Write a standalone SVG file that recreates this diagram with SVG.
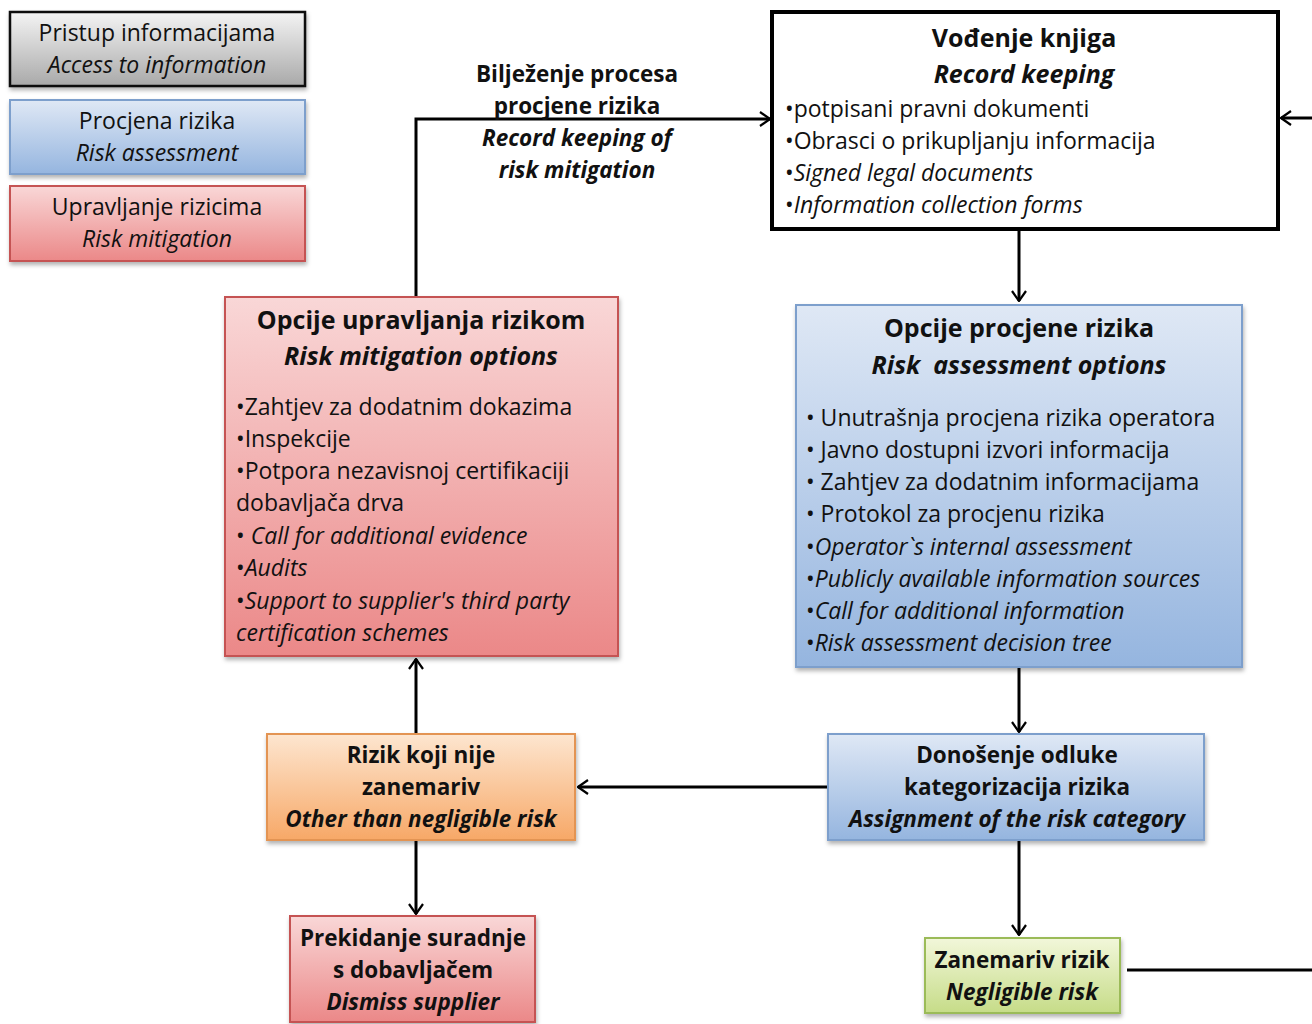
<svg xmlns="http://www.w3.org/2000/svg" width="1312" height="1024" viewBox="0 0 1312 1024">
<defs>
<linearGradient id="gGray" x1="0" y1="0" x2="0" y2="1"><stop offset="0" stop-color="#f4f4f4"/><stop offset="1" stop-color="#a9a9a9"/></linearGradient>
<linearGradient id="gBlue" x1="0" y1="0" x2="0" y2="1"><stop offset="0" stop-color="#dfe8f5"/><stop offset="1" stop-color="#95b5df"/></linearGradient>
<linearGradient id="gRed" x1="0" y1="0" x2="0" y2="1"><stop offset="0" stop-color="#f9d7d7"/><stop offset="1" stop-color="#eb8888"/></linearGradient>
<linearGradient id="gOrange" x1="0" y1="0" x2="0" y2="1"><stop offset="0" stop-color="#fde6d0"/><stop offset="1" stop-color="#f7a867"/></linearGradient>
<linearGradient id="gGreen" x1="0" y1="0" x2="0" y2="1"><stop offset="0" stop-color="#f2f7da"/><stop offset="1" stop-color="#c6dc88"/></linearGradient>
<filter id="sh" x="-5%" y="-5%" width="115%" height="120%"><feDropShadow dx="1" dy="3" stdDeviation="2" flood-color="#000" flood-opacity="0.3"/></filter>
<marker id="arr" viewBox="0 0 12 16" refX="11" refY="8" markerWidth="12" markerHeight="16" markerUnits="userSpaceOnUse" orient="auto"><path d="M1,1 L11,8 L1,15" fill="none" stroke="#000" stroke-width="2.2"/></marker>
</defs>
<style>
text{font-family:"Open Sans","Noto Sans",sans-serif;font-size:23px;fill:#111}
.c{text-anchor:middle}
.b{font-weight:bold;font-size:22.5px}
.i{font-style:italic}
.t{font-size:25px}
.blue{fill:url(#gBlue);stroke:#7d9fcc;stroke-width:2;filter:url(#sh)}
.red{fill:url(#gRed);stroke:#c55353;stroke-width:2;filter:url(#sh)}
.orange{fill:url(#gOrange);stroke:#e39453;stroke-width:2;filter:url(#sh)}
.green{fill:url(#gGreen);stroke:#9bbb59;stroke-width:2;filter:url(#sh)}
.gray{fill:url(#gGray);stroke:#111;stroke-width:2.5;filter:url(#sh)}
.conn{fill:none;stroke:#000;stroke-width:3}
</style>
<rect width="1312" height="1024" fill="#fff"/>

<g id="legend-access">
<rect class="gray" x="10" y="12" width="295" height="74"/>
<text class="c" x="157" y="41">Pristup informacijama</text>
<text class="c i" x="157" y="73">Access to information</text>
</g>
<g id="legend-assessment">
<rect class="blue" x="10" y="100" width="295" height="74"/>
<text class="c" x="157" y="129">Procjena rizika</text>
<text class="c i" x="157" y="161">Risk assessment</text>
</g>
<g id="legend-mitigation">
<rect class="red" x="10" y="186" width="295" height="75"/>
<text class="c" x="157" y="215">Upravljanje rizicima</text>
<text class="c i" x="157" y="247">Risk mitigation</text>
</g>

<g id="connectors">
<path class="conn" d="M416,296 L416,119 L770,119" marker-end="url(#arr)"/>
<path class="conn" d="M1312,118 L1281,118" marker-end="url(#arr)"/>
<path class="conn" d="M1019,230 L1019,301" marker-end="url(#arr)"/>
<path class="conn" d="M1019,668 L1019,732" marker-end="url(#arr)"/>
<path class="conn" d="M828,787 L578,787" marker-end="url(#arr)"/>
<path class="conn" d="M416,733 L416,659" marker-end="url(#arr)"/>
<path class="conn" d="M416,841 L416,914" marker-end="url(#arr)"/>
<path class="conn" d="M1019,841 L1019,935" marker-end="url(#arr)"/>
<path class="conn" d="M1127,970 L1312,970"/>
</g>

<g id="label-record-mitigation">
<text class="c b" x="577" y="82">Bilježenje procesa</text>
<text class="c b" x="577" y="114">procjene rizika</text>
<text class="c b i" x="577" y="146">Record keeping of</text>
<text class="c b i" x="577" y="178">risk mitigation</text>
</g>

<g id="record-keeping">
<rect x="772" y="12" width="506" height="217" fill="#fff" stroke="#000" stroke-width="4"/>
<text class="c b t" x="1024" y="47">Vođenje knjiga</text>
<text class="c b i t" x="1024" y="83">Record keeping</text>
<text x="785" y="117">•potpisani pravni dokumenti</text>
<text x="785" y="149">•Obrasci o prikupljanju informacija</text>
<text x="785" y="181">•<tspan class="i">Signed legal documents</tspan></text>
<text x="785" y="213">•<tspan class="i">Information collection forms</tspan></text>
</g>

<g id="assessment-options">
<rect class="blue" x="796" y="305" width="446" height="362"/>
<text class="c b t" x="1019" y="337">Opcije procjene rizika</text>
<text class="c b i t" x="1019" y="374" xml:space="preserve">Risk  assessment options</text>
<text x="806" y="426">• Unutrašnja procjena rizika operatora</text>
<text x="806" y="458">• Javno dostupni izvori informacija</text>
<text x="806" y="490">• Zahtjev za dodatnim informacijama</text>
<text x="806" y="522">• Protokol za procjenu rizika</text>
<text x="806" y="555">•<tspan class="i">Operator`s internal assessment</tspan></text>
<text x="806" y="587">•<tspan class="i">Publicly available information sources</tspan></text>
<text x="806" y="619">•<tspan class="i">Call for additional information</tspan></text>
<text x="806" y="651">•<tspan class="i">Risk assessment decision tree</tspan></text>
</g>

<g id="mitigation-options">
<rect class="red" x="225" y="297" width="393" height="359"/>
<text class="c b t" x="421" y="329">Opcije upravljanja rizikom</text>
<text class="c b i t" x="421" y="365">Risk mitigation options</text>
<text x="236" y="415">•Zahtjev za dodatnim dokazima</text>
<text x="236" y="447">•Inspekcije</text>
<text x="236" y="479">•Potpora nezavisnoj certifikaciji</text>
<text x="236" y="511">dobavljača drva</text>
<text x="236" y="544">• <tspan class="i">Call for additional evidence</tspan></text>
<text x="236" y="576">•<tspan class="i">Audits</tspan></text>
<text x="236" y="609">•<tspan class="i">Support to supplier's third party</tspan></text>
<text x="236" y="641" class="i">certification schemes</text>
</g>

<g id="decision">
<rect class="blue" x="828" y="734" width="376" height="106"/>
<text class="c b" x="1017" y="763">Donošenje odluke</text>
<text class="c b" x="1017" y="795">kategorizacija rizika</text>
<text class="c b i" x="1017" y="827">Assignment of the risk category</text>
</g>

<g id="other-than-negligible">
<rect class="orange" x="267" y="734" width="308" height="106"/>
<text class="c b" x="421" y="763">Rizik koji nije</text>
<text class="c b" x="421" y="795">zanemariv</text>
<text class="c b i" x="421" y="827">Other than negligible risk</text>
</g>

<g id="dismiss-supplier">
<rect class="red" x="290" y="916" width="245" height="106"/>
<text class="c b" x="413" y="946">Prekidanje suradnje</text>
<text class="c b" x="413" y="978">s dobavljačem</text>
<text class="c b i" x="413" y="1010">Dismiss supplier</text>
</g>

<g id="negligible">
<rect class="green" x="925" y="938" width="195" height="75"/>
<text class="c b" x="1022" y="968">Zanemariv rizik</text>
<text class="c b i" x="1022" y="1000">Negligible risk</text>
</g>
</svg>
